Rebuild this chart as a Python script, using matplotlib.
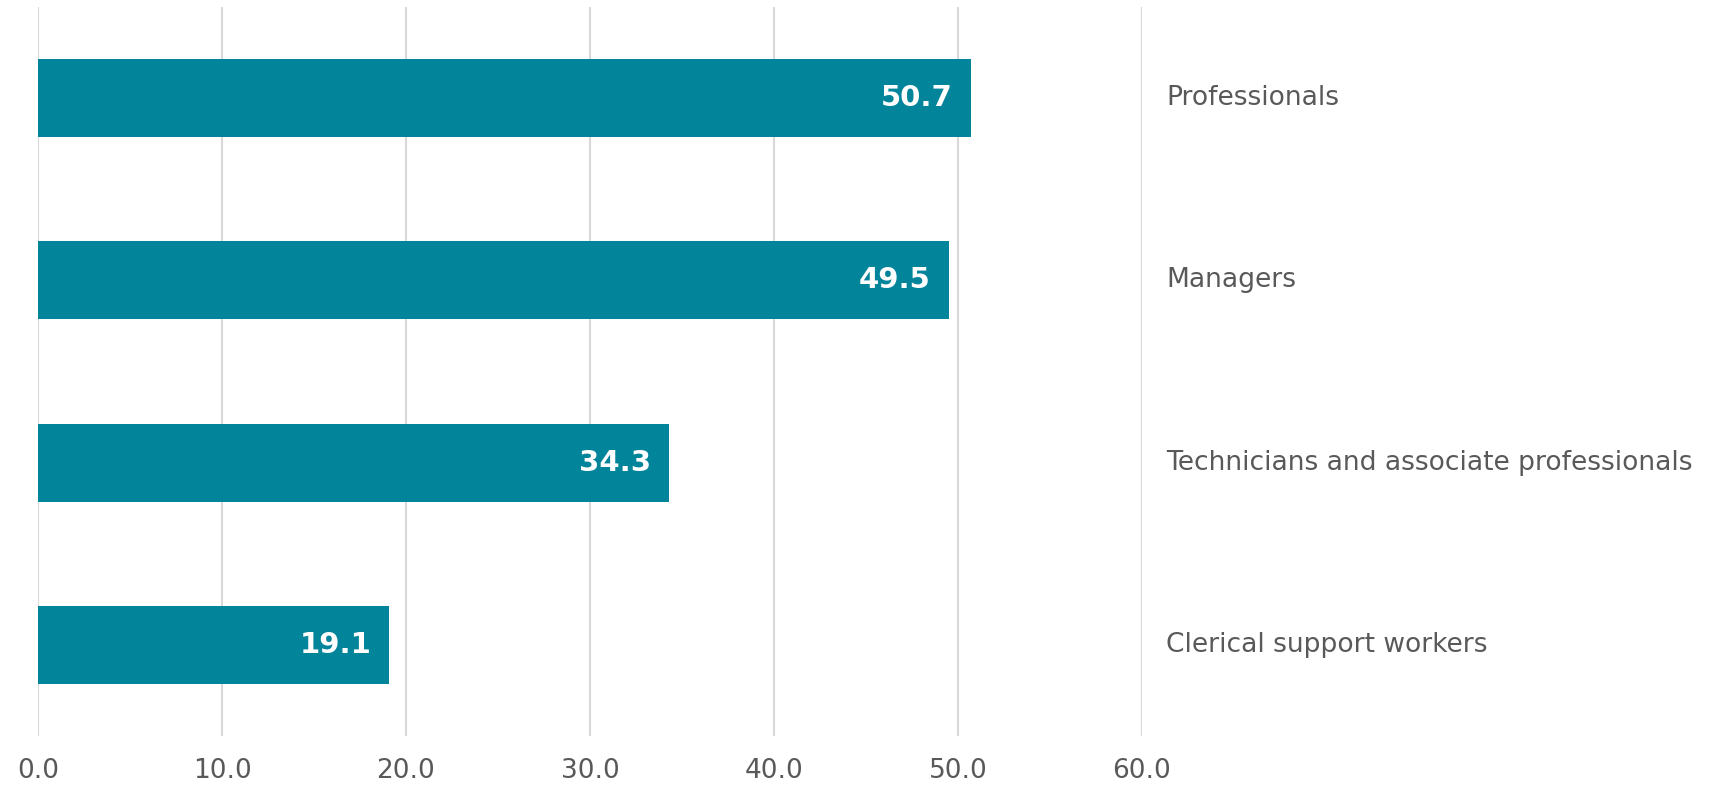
import matplotlib
matplotlib.use("Agg")
import matplotlib.pyplot as plt

categories = ["Professionals", "Managers", "Technicians and associate professionals", "Clerical support workers"]
values = [50.7, 49.5, 34.3, 19.1]
xticks = [0, 10, 20, 30, 40, 50, 60]

plt.rcParams['font.family'] = ['DejaVu Sans']
fig = plt.figure(figsize=(17.21, 7.87), dpi=100)
ax = fig.add_axes([38/1721, 1 - 736/787, 1104/1721, 729/787])

bar_color = "#02849A"
text_color = "#595959"
ypos = list(range(len(categories)))
ax.barh(ypos, values, height=0.428, color=bar_color, zorder=3)

ax.set_xlim(0, 60)
ax.set_ylim(len(categories) - 0.5, -0.5)
ax.set_xticks(xticks)
ax.set_xticklabels([f"{t:.1f}" for t in xticks], fontsize=19, color=text_color)
ax.tick_params(axis='x', length=0, pad=16)
ax.set_yticks([])
ax.grid(axis='x', color="#d9d9d9", linewidth=1.5, zorder=0)
for s in ax.spines.values():
    s.set_visible(False)

for y, v, c in zip(ypos, values, categories):
    ax.annotate(f"{v:.1f}", xy=(v, y), xytext=(-18, 0), textcoords="offset pixels",
                ha="right", va="center", fontsize=21, fontweight="bold", color="white", zorder=4)
    ax.annotate(c, xy=(60, y), xytext=(24, 0), textcoords="offset pixels",
                ha="left", va="center", fontsize=19.1, color=text_color, annotation_clip=False)

fig.savefig("out.png", dpi=100)
